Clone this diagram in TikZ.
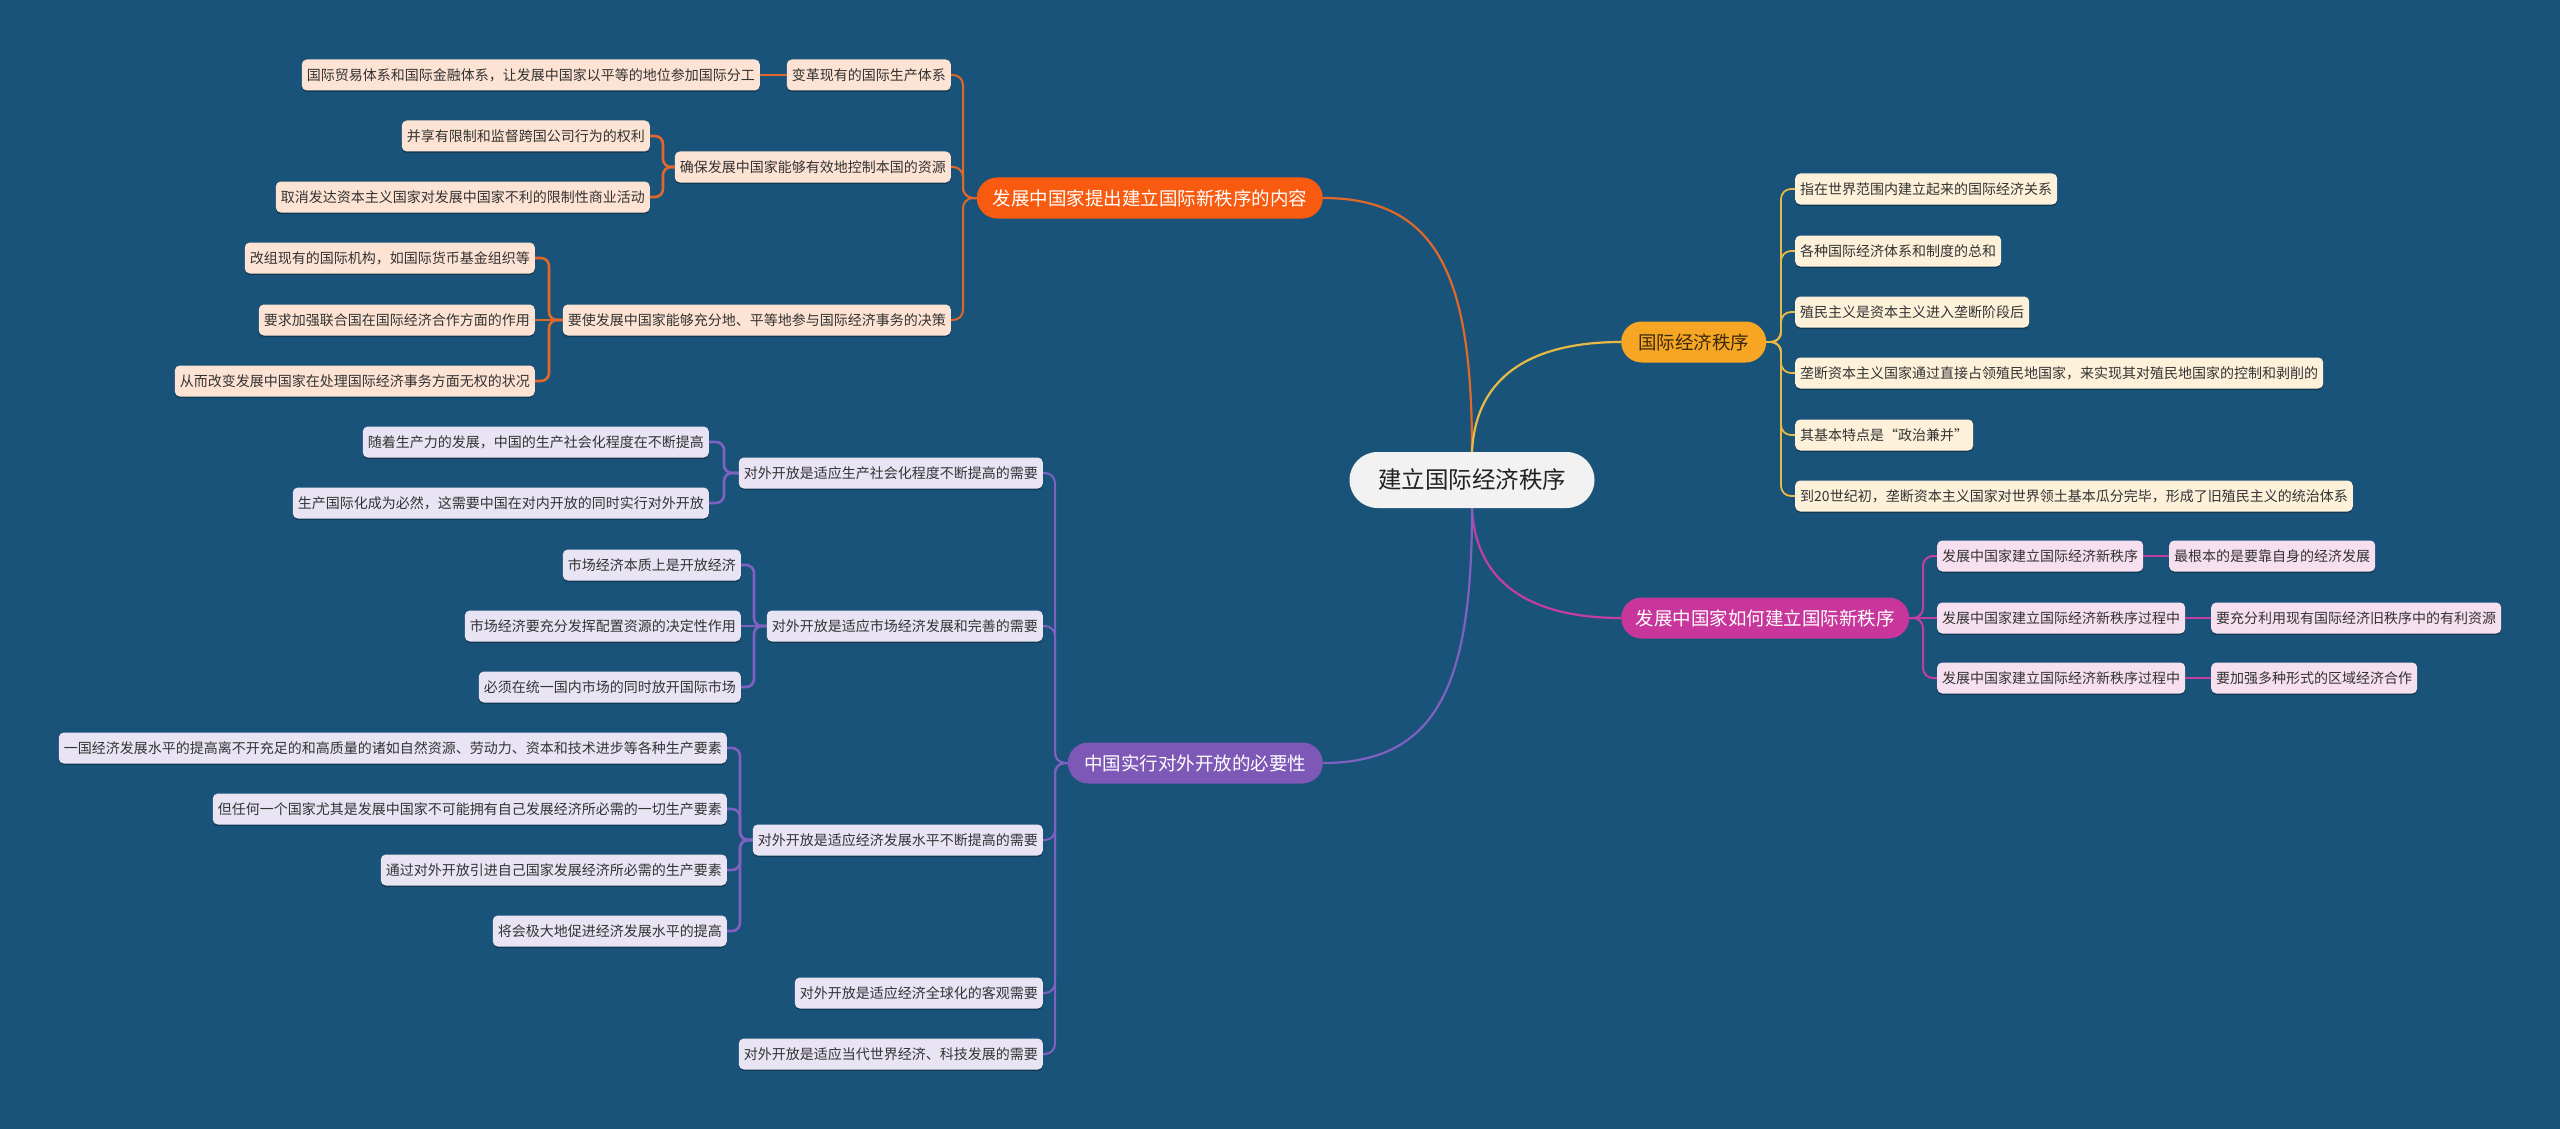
\documentclass[tikz,border=0pt]{standalone}
\usepackage{fontspec}
\setmainfont{Noto Sans CJK SC}
\usetikzlibrary{shadows}
\definecolor{bg}{HTML}{1A5379}
\definecolor{ofill}{HTML}{F85B10}
\definecolor{oleafc}{HTML}{FDE3D3}
\definecolor{oline}{HTML}{E0682B}
\definecolor{yfill}{HTML}{F6A623}
\definecolor{yleafc}{HTML}{FDF1DA}
\definecolor{yline}{HTML}{E7BA45}
\definecolor{ytext}{HTML}{3D2B0F}
\definecolor{mfill}{HTML}{C9369B}
\definecolor{mleafc}{HTML}{F6DFEE}
\definecolor{mline}{HTML}{C23FA0}
\definecolor{pfill}{HTML}{7D58B6}
\definecolor{pleafc}{HTML}{E9E4F4}
\definecolor{pline}{HTML}{7E61C0}
\definecolor{cfill}{HTML}{F2F2F2}
\definecolor{ctext}{HTML}{222222}
\definecolor{leaftxt}{HTML}{333333}
\pgfdeclarelayer{back}
\pgfdeclarelayer{lines}
\pgfsetlayers{back,lines,main}
\tikzset{
  leaf/.style={rectangle, rounded corners=5pt, minimum height=31pt, inner xsep=5pt, inner ysep=0pt,
    font=\fontsize{14pt}{16pt}\selectfont, text=leaftxt,
    drop shadow={shadow xshift=0pt, shadow yshift=-1.5pt, opacity=0.3, fill=black}},
  oleaf/.style={leaf, fill=oleafc},
  yleaf/.style={leaf, fill=yleafc},
  mleaf/.style={leaf, fill=mleafc},
  pleaf/.style={leaf, fill=pleafc},
  mainbox/.style={rectangle, rounded corners=20.5pt, minimum height=41pt, inner xsep=0pt, inner ysep=0pt,
    font=\fontsize{18.5pt}{21pt}\selectfont},
  rootbox/.style={rectangle, rounded corners=28pt, fill=cfill, minimum width=245pt, minimum height=56pt,
    inner xsep=0pt, font=\fontsize{23.5pt}{26pt}\selectfont, text=ctext},
  mainline/.style={line width=2.2pt},
  lv2/.style={rounded corners=10pt, line width=2pt},
  lv3/.style={rounded corners=8pt, line width=2.6pt},
}
\begin{document}
\begin{tikzpicture}[x=1pt, y=-1pt]
\begin{pgfonlayer}{back}
  \fill[bg] (0,0) rectangle (2560,1129);
\end{pgfonlayer}
\useasboundingbox (0,0) rectangle (2560,1129);

% root
\node[rootbox] (C) at (1472,480) {建立国际经济秩序};

% main nodes
\node[mainbox, fill=ofill, text=white, minimum width=346pt, anchor=east] (O) at (1323,198) {发展中国家提出建立国际新秩序的内容};
\node[mainbox, fill=yfill, text=ytext, minimum width=145pt, anchor=west] (Y) at (1621,342) {国际经济秩序};
\node[mainbox, fill=mfill, text=white, minimum width=288pt, anchor=west] (M) at (1621,618) {发展中国家如何建立国际新秩序};
\node[mainbox, fill=pfill, text=white, minimum width=255pt, anchor=east] (P) at (1323,763) {中国实行对外开放的必要性};

% orange branch
\node[oleaf, anchor=east] (O1) at (951,75) {变革现有的国际生产体系};
\node[oleaf, anchor=east] (O1a) at (760,75) {国际贸易体系和国际金融体系，让发展中国家以平等的地位参加国际分工};
\node[oleaf, anchor=east] (O2) at (951,167) {确保发展中国家能够有效地控制本国的资源};
\node[oleaf, anchor=east] (O2a) at (650,136) {并享有限制和监督跨国公司行为的权利};
\node[oleaf, anchor=east] (O2b) at (650,197) {取消发达资本主义国家对发展中国家不利的限制性商业活动};
\node[oleaf, anchor=east] (O3) at (951,320) {要使发展中国家能够充分地、平等地参与国际经济事务的决策};
\node[oleaf, anchor=east] (O3a) at (535,258) {改组现有的国际机构，如国际货币基金组织等};
\node[oleaf, anchor=east] (O3b) at (535,320) {要求加强联合国在国际经济合作方面的作用};
\node[oleaf, anchor=east] (O3c) at (535,381) {从而改变发展中国家在处理国际经济事务方面无权的状况};

% yellow branch
\node[yleaf, anchor=west] (Y1) at (1795,189) {指在世界范围内建立起来的国际经济关系};
\node[yleaf, anchor=west] (Y2) at (1795,251) {各种国际经济体系和制度的总和};
\node[yleaf, anchor=west] (Y3) at (1795,312) {殖民主义是资本主义进入垄断阶段后};
\node[yleaf, anchor=west] (Y4) at (1795,373) {垄断资本主义国家通过直接占领殖民地国家，来实现其对殖民地国家的控制和剥削的};
\node[yleaf, anchor=west] (Y5) at (1795,435) {其基本特点是“政治兼并”};
\node[yleaf, anchor=west] (Y6) at (1795,496) {到20世纪初，垄断资本主义国家对世界领土基本瓜分完毕，形成了旧殖民主义的统治体系};

% magenta branch
\node[mleaf, anchor=west] (M1) at (1937,556) {发展中国家建立国际经济新秩序};
\node[mleaf, anchor=west] (M1a) at (2169,556) {最根本的是要靠自身的经济发展};
\node[mleaf, anchor=west] (M2) at (1937,618) {发展中国家建立国际经济新秩序过程中};
\node[mleaf, anchor=west] (M2a) at (2211,618) {要充分利用现有国际经济旧秩序中的有利资源};
\node[mleaf, anchor=west] (M3) at (1937,678) {发展中国家建立国际经济新秩序过程中};
\node[mleaf, anchor=west] (M3a) at (2211,678) {要加强多种形式的区域经济合作};

% purple branch
\node[pleaf, anchor=east] (P1) at (1043,473) {对外开放是适应生产社会化程度不断提高的需要};
\node[pleaf, anchor=east] (P1a) at (709,442) {随着生产力的发展，中国的生产社会化程度在不断提高};
\node[pleaf, anchor=east] (P1b) at (709,503) {生产国际化成为必然，这需要中国在对内开放的同时实行对外开放};
\node[pleaf, anchor=east] (P2) at (1043,626) {对外开放是适应市场经济发展和完善的需要};
\node[pleaf, anchor=east] (P2a) at (741,565) {市场经济本质上是开放经济};
\node[pleaf, anchor=east] (P2b) at (741,626) {市场经济要充分发挥配置资源的决定性作用};
\node[pleaf, anchor=east] (P2c) at (741,687) {必须在统一国内市场的同时放开国际市场};
\node[pleaf, anchor=east] (P3) at (1043,840) {对外开放是适应经济发展水平不断提高的需要};
\node[pleaf, anchor=east] (P3a) at (727,748) {一国经济发展水平的提高离不开充足的和高质量的诸如自然资源、劳动力、资本和技术进步等各种生产要素};
\node[pleaf, anchor=east] (P3b) at (727,809) {但任何一个国家尤其是发展中国家不可能拥有自己发展经济所必需的一切生产要素};
\node[pleaf, anchor=east] (P3c) at (727,870) {通过对外开放引进自己国家发展经济所必需的生产要素};
\node[pleaf, anchor=east] (P3d) at (727,931) {将会极大地促进经济发展水平的提高};
\node[pleaf, anchor=east] (P4) at (1043,993) {对外开放是适应经济全球化的客观需要};
\node[pleaf, anchor=east] (P5) at (1043,1054) {对外开放是适应当代世界经济、科技发展的需要};

\begin{pgfonlayer}{lines}
  % main curves
  \draw[mainline, oline] (C.north) .. controls (1472,280) and (1440,198) .. (O.east);
  \draw[mainline, yline] (C.north) .. controls (1476,370) and (1540,342) .. (Y.west);
  \draw[mainline, mline] (C.south) .. controls (1476,590) and (1540,618) .. (M.west);
  \draw[mainline, pline] (C.south) .. controls (1472,680) and (1440,763) .. (P.east);

  % orange
  \draw[lv2, oline] (O.west) -- (963,198) |- (O1.east);
  \draw[lv2, oline] (O.west) -- (963,198) |- (O2.east);
  \draw[lv2, oline] (O.west) -- (963,198) |- (O3.east);
  \draw[lv3, oline] (O1.west) -- (O1a.east);
  \draw[lv3, oline] (O2.west) -- (663,167) |- (O2a.east);
  \draw[lv3, oline] (O2.west) -- (663,167) |- (O2b.east);
  \draw[lv3, oline] (O3.west) -- (549,320) |- (O3a.east);
  \draw[lv3, oline] (O3.west) -- (O3b.east);
  \draw[lv3, oline] (O3.west) -- (549,320) |- (O3c.east);

  % yellow
  \foreach \n in {Y1,Y2,Y3,Y4,Y5,Y6}
    \draw[lv2, yline, line width=1.8pt] (Y.east) -- (1781,342) |- (\n.west);

  % magenta
  \draw[lv2, mline] (M.east) -- (1923,618) |- (M1.west);
  \draw[lv2, mline] (M.east) -- (M2.west);
  \draw[lv2, mline] (M.east) -- (1923,618) |- (M3.west);
  \draw[lv3, mline] (M1.east) -- (M1a.west);
  \draw[lv3, mline] (M2.east) -- (M2a.west);
  \draw[lv3, mline] (M3.east) -- (M3a.west);

  % purple
  \foreach \n in {P1,P2,P3,P4,P5}
    \draw[lv2, pline] (P.west) -- (1055,763) |- (\n.east);
  \draw[lv3, pline] (P1.west) -- (724,473) |- (P1a.east);
  \draw[lv3, pline] (P1.west) -- (724,473) |- (P1b.east);
  \draw[lv3, pline] (P2.west) -- (754,626) |- (P2a.east);
  \draw[lv3, pline] (P2.west) -- (P2b.east);
  \draw[lv3, pline] (P2.west) -- (754,626) |- (P2c.east);
  \foreach \n in {P3a,P3b,P3c,P3d}
    \draw[lv3, pline] (P3.west) -- (740,840) |- (\n.east);
\end{pgfonlayer}
\end{tikzpicture}
\end{document}
